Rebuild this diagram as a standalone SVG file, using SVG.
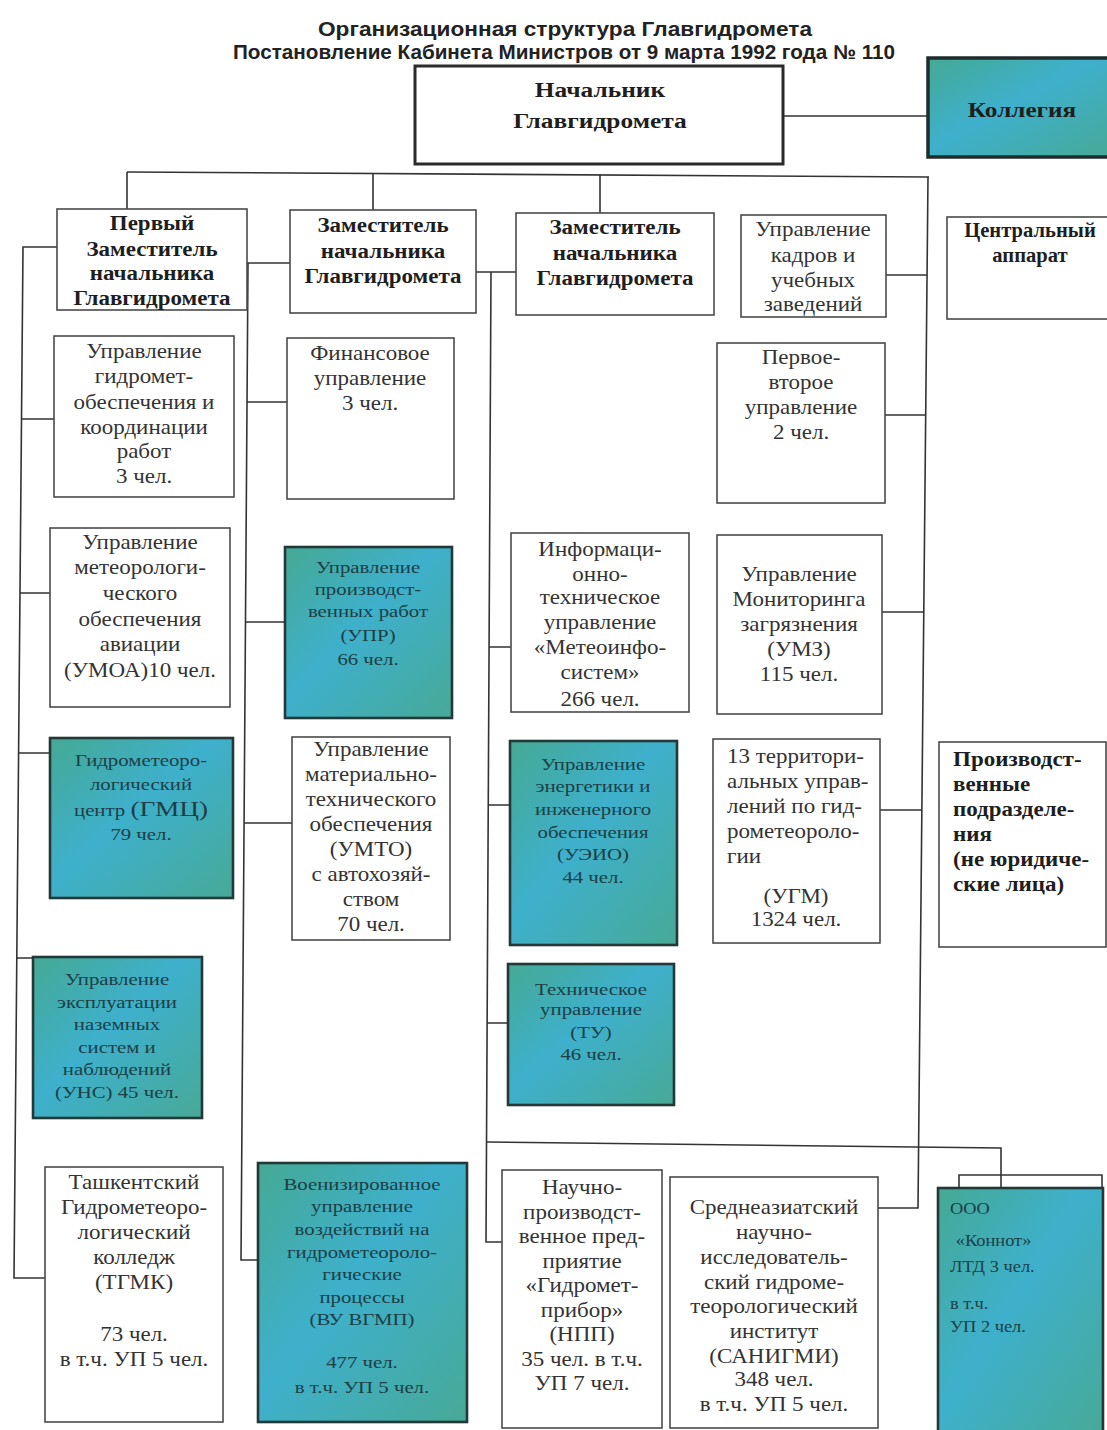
<svg xmlns="http://www.w3.org/2000/svg" width="1107" height="1430" viewBox="0 0 1107 1430">
<defs>
<linearGradient id="tg" x1="0" y1="0" x2="1" y2="1">
<stop offset="0" stop-color="#45a994"/>
<stop offset="0.45" stop-color="#3eb0cc"/>
<stop offset="1" stop-color="#47a996"/>
</linearGradient>
<style>
.box{fill:#fff;stroke:#4a4a4a;stroke-width:1.6}
.teal{fill:url(#tg);stroke:#243838;stroke-width:2.6}
.thick{fill:#fff;stroke:#2a2a2a;stroke-width:3}
.t{font-family:"Liberation Serif",serif;font-size:20px;fill:#333;text-anchor:middle}
.l{text-anchor:start}
.b{font-weight:bold;fill:#1e1e1e}
.s{font-size:16px;fill:#1c3f47}
.h{font-family:"Liberation Sans",sans-serif;font-weight:bold;font-size:20px;fill:#222;text-anchor:middle}
.conn path{stroke:#333;stroke-width:1.6;fill:none}
</style>
</defs>
<rect width="1107" height="1430" fill="#fff"/>
<g id="title">
<text class="h" x="565" y="36" textLength="494" lengthAdjust="spacingAndGlyphs">Организационная структура Главгидромета</text>
<text class="h" x="564" y="59" textLength="662" lengthAdjust="spacingAndGlyphs">Постановление Кабинета Министров от 9 марта 1992 года № 110</text>
</g>
<g class="conn" id="connectors">
<path d="M783 116H928"/>
<path d="M127 172L929 177"/>
<path d="M127 172V209M373 173V210M600 175V213"/>
<path d="M928 177L918 1208H878"/>
<path d="M886 275H927M885 415H926M882 612H924M880 810H922"/>
<path d="M57 247H23L14 1278H45"/>
<path d="M22 419H54M20 593H50M19 753H50M17 958H33"/>
<path d="M247 263H290"/>
<path d="M248 263L241 1260H258"/>
<path d="M247 402H287M245 622H285M244 823H292"/>
<path d="M476 272H516"/>
<path d="M491 272L486 1242H502"/>
<path d="M489 647H511M488 805H510M487 1023H508"/>
<path d="M487 1142L1001 1148V1188"/>
<path d="M959 1188V1175H1102V1188"/>
</g>
<g id="n-head">
<rect class="thick" x="415" y="66" width="368" height="98"/>
<g transform="translate(600 0) scale(1.27 1)">
<text class="t b" x="0" y="97" font-size="26">Начальник</text>
<text class="t b" x="0" y="128" font-size="26">Главгидромета</text>
</g>
</g>
<g id="n-kollegia">
<rect x="928" y="58" width="185" height="99" fill="url(#tg)" stroke="#1e2c2c" stroke-width="3.5"/>
<g transform="translate(1022 0) scale(1.26 1)">
<text class="t b" x="0" y="117" font-size="26" fill="#1c3438">Коллегия</text>
</g>
</g>
<g id="n-first">
<rect class="box" x="57" y="209" width="190" height="101"/>
<g transform="translate(152 0) scale(1.15 1)">
<text class="t b" x="0" y="230">Первый</text>
<text class="t b" x="0" y="256">Заместитель</text>
<text class="t b" x="0" y="280">начальника</text>
<text class="t b" x="0" y="305">Главгидромета</text>
</g>
</g>
<g id="n-dep2">
<rect class="box" x="290" y="210" width="186" height="103"/>
<g transform="translate(383 0) scale(1.15 1)">
<text class="t b" x="0" y="232">Заместитель</text>
<text class="t b" x="0" y="258">начальника</text>
<text class="t b" x="0" y="283">Главгидромета</text>
</g>
</g>
<g id="n-dep3">
<rect class="box" x="516" y="213" width="198" height="102"/>
<g transform="translate(615 0) scale(1.15 1)">
<text class="t b" x="0" y="234">Заместитель</text>
<text class="t b" x="0" y="260">начальника</text>
<text class="t b" x="0" y="285">Главгидромета</text>
</g>
</g>
<g id="n-kadr">
<rect class="box" x="741" y="215" width="145" height="102"/>
<g transform="translate(813 0) scale(1.15 1)">
<text class="t" x="0" y="236">Управление</text>
<text class="t" x="0" y="262">кадров и</text>
<text class="t" x="0" y="287">учебных</text>
<text class="t" x="0" y="311">заведений</text>
</g>
</g>
<g id="n-central">
<rect class="box" x="947" y="217" width="170" height="102"/>
<g transform="translate(1030 0) scale(1.03 1)">
<text class="t b" x="0" y="237" font-size="18.5">Центральный</text>
<text class="t b" x="0" y="262" font-size="18.5">аппарат</text>
</g>
</g>
<g id="n-gidromet">
<rect class="box" x="54" y="336" width="180" height="161"/>
<g transform="translate(144 0) scale(1.15 1)">
<text class="t" x="0" y="358">Управление</text>
<text class="t" x="0" y="383">гидромет-</text>
<text class="t" x="0" y="409">обеспечения и</text>
<text class="t" x="0" y="434">координации</text>
<text class="t" x="0" y="458">работ</text>
<text class="t" x="0" y="483">3 чел.</text>
</g>
</g>
<g id="n-umoa">
<rect class="box" x="50" y="528" width="180" height="179"/>
<g transform="translate(140 0) scale(1.15 1)">
<text class="t" x="0" y="549">Управление</text>
<text class="t" x="0" y="574">метеорологи-</text>
<text class="t" x="0" y="600">ческого</text>
<text class="t" x="0" y="626">обеспечения</text>
<text class="t" x="0" y="651">авиации</text>
<text class="t" x="0" y="677">(УМОА)10 чел.</text>
</g>
</g>
<g id="n-gmc">
<rect class="teal" x="50" y="738" width="183" height="160"/>
<g transform="translate(141 0) scale(1.3 1)">
<text class="t s" x="0" y="766">Гидрометеоро-</text>
<text class="t s" x="0" y="790">логический</text>
<text class="t s" x="0" y="816">центр <tspan font-size="21">(ГМЦ)</tspan></text>
<text class="t s" x="0" y="840" font-size="14">79 чел.</text>
</g>
</g>
<g id="n-uns">
<rect class="teal" x="33" y="957" width="169" height="161"/>
<g transform="translate(117 0) scale(1.3 1)">
<text class="t s" x="0" y="985">Управление</text>
<text class="t s" x="0" y="1008">эксплуатации</text>
<text class="t s" x="0" y="1030">наземных</text>
<text class="t s" x="0" y="1053">систем и</text>
<text class="t s" x="0" y="1075">наблюдений</text>
<text class="t s" x="0" y="1098">(УНС) 45 чел.</text>
</g>
</g>
<g id="n-tgmk">
<rect class="box" x="45" y="1167" width="178" height="255"/>
<g transform="translate(134 0) scale(1.15 1)">
<text class="t" x="0" y="1189">Ташкентский</text>
<text class="t" x="0" y="1214">Гидрометеоро-</text>
<text class="t" x="0" y="1239">логический</text>
<text class="t" x="0" y="1264">колледж</text>
<text class="t" x="0" y="1289">(ТГМК)</text>
<text class="t" x="0" y="1341">73 чел.</text>
<text class="t" x="0" y="1366">в т.ч. УП 5 чел.</text>
</g>
</g>
<g id="n-fin">
<rect class="box" x="287" y="338" width="167" height="161"/>
<g transform="translate(370 0) scale(1.15 1)">
<text class="t" x="0" y="360">Финансовое</text>
<text class="t" x="0" y="385">управление</text>
<text class="t" x="0" y="410">3 чел.</text>
</g>
</g>
<g id="n-upr">
<rect class="teal" x="285" y="547" width="167" height="171"/>
<g transform="translate(368 0) scale(1.3 1)">
<text class="t s" x="0" y="573">Управление</text>
<text class="t s" x="0" y="595">производст-</text>
<text class="t s" x="0" y="617">венных работ</text>
<text class="t s" x="0" y="641">(УПР)</text>
<text class="t s" x="0" y="665">66 чел.</text>
</g>
</g>
<g id="n-umto">
<rect class="box" x="292" y="737" width="158" height="203"/>
<g transform="translate(371 0) scale(1.15 1)">
<text class="t" x="0" y="756">Управление</text>
<text class="t" x="0" y="781">материально-</text>
<text class="t" x="0" y="806">технического</text>
<text class="t" x="0" y="831">обеспечения</text>
<text class="t" x="0" y="856">(УМТО)</text>
<text class="t" x="0" y="881">с автохозяй-</text>
<text class="t" x="0" y="906">ством</text>
<text class="t" x="0" y="931">70 чел.</text>
</g>
</g>
<g id="n-vu">
<rect class="teal" x="258" y="1163" width="209" height="259"/>
<g transform="translate(362 0) scale(1.3 1)">
<text class="t s" x="0" y="1190">Военизированное</text>
<text class="t s" x="0" y="1212">управление</text>
<text class="t s" x="0" y="1235">воздействий на</text>
<text class="t s" x="0" y="1258">гидрометеороло-</text>
<text class="t s" x="0" y="1280">гические</text>
<text class="t s" x="0" y="1303">процессы</text>
<text class="t s" x="0" y="1325">(ВУ ВГМП)</text>
<text class="t s" x="0" y="1368">477 чел.</text>
<text class="t s" x="0" y="1393">в т.ч. УП 5 чел.</text>
</g>
</g>
<g id="n-info">
<rect class="box" x="511" y="533" width="178" height="179"/>
<g transform="translate(600 0) scale(1.15 1)">
<text class="t" x="0" y="556">Информаци-</text>
<text class="t" x="0" y="581">онно-</text>
<text class="t" x="0" y="604">техническое</text>
<text class="t" x="0" y="629">управление</text>
<text class="t" x="0" y="654">«Метеоинфо-</text>
<text class="t" x="0" y="679">систем»</text>
<text class="t" x="0" y="706">266 чел.</text>
</g>
</g>
<g id="n-ueio">
<rect class="teal" x="510" y="741" width="167" height="204"/>
<g transform="translate(593 0) scale(1.3 1)">
<text class="t s" x="0" y="770">Управление</text>
<text class="t s" x="0" y="792">энергетики и</text>
<text class="t s" x="0" y="815">инженерного</text>
<text class="t s" x="0" y="838">обеспечения</text>
<text class="t s" x="0" y="860">(УЭИО)</text>
<text class="t s" x="0" y="883">44 чел.</text>
</g>
</g>
<g id="n-tu">
<rect class="teal" x="508" y="964" width="166" height="141"/>
<g transform="translate(591 0) scale(1.3 1)">
<text class="t s" x="0" y="995">Техническое</text>
<text class="t s" x="0" y="1015">управление</text>
<text class="t s" x="0" y="1038">(ТУ)</text>
<text class="t s" x="0" y="1060">46 чел.</text>
</g>
</g>
<g id="n-npp">
<rect class="box" x="502" y="1170" width="160" height="258"/>
<g transform="translate(582 0) scale(1.15 1)">
<text class="t" x="0" y="1194">Научно-</text>
<text class="t" x="0" y="1219">производст-</text>
<text class="t" x="0" y="1243">венное пред-</text>
<text class="t" x="0" y="1268">приятие</text>
<text class="t" x="0" y="1292">«Гидромет-</text>
<text class="t" x="0" y="1317">прибор»</text>
<text class="t" x="0" y="1341">(НПП)</text>
<text class="t" x="0" y="1366">35 чел.  в т.ч.</text>
<text class="t" x="0" y="1390">УП 7 чел.</text>
</g>
</g>
<g id="n-pervoe">
<rect class="box" x="717" y="343" width="168" height="160"/>
<g transform="translate(801 0) scale(1.15 1)">
<text class="t" x="0" y="364">Первое-</text>
<text class="t" x="0" y="389">второе</text>
<text class="t" x="0" y="414">управление</text>
<text class="t" x="0" y="439">2 чел.</text>
</g>
</g>
<g id="n-umz">
<rect class="box" x="717" y="535" width="165" height="179"/>
<g transform="translate(799 0) scale(1.15 1)">
<text class="t" x="0" y="581">Управление</text>
<text class="t" x="0" y="606">Мониторинга</text>
<text class="t" x="0" y="631">загрязнения</text>
<text class="t" x="0" y="656">(УМЗ)</text>
<text class="t" x="0" y="681">115 чел.</text>
</g>
</g>
<g id="n-ugm">
<rect class="box" x="713" y="739" width="167" height="204"/>
<g transform="translate(727 0) scale(1.15 1)">
<text class="t l" x="0" y="763">13 территори-</text>
<text class="t l" x="0" y="788">альных управ-</text>
<text class="t l" x="0" y="813">лений по гид-</text>
<text class="t l" x="0" y="838">рометеороло-</text>
<text class="t l" x="0" y="863">гии</text>
</g>
<g transform="translate(796 0) scale(1.15 1)">
<text class="t" x="0" y="903">(УГМ)</text>
<text class="t" x="0" y="926">1324 чел.</text>
</g>
</g>
<g id="n-sanigmi">
<rect class="box" x="670" y="1177" width="208" height="251"/>
<g transform="translate(774 0) scale(1.15 1)">
<text class="t" x="0" y="1214">Среднеазиатский</text>
<text class="t" x="0" y="1239">научно-</text>
<text class="t" x="0" y="1264">исследователь-</text>
<text class="t" x="0" y="1289">ский гидроме-</text>
<text class="t" x="0" y="1313">теорологический</text>
<text class="t" x="0" y="1338">институт</text>
<text class="t" x="0" y="1363">(САНИГМИ)</text>
<text class="t" x="0" y="1386">348 чел.</text>
<text class="t" x="0" y="1411">в т.ч. УП 5 чел.</text>
</g>
</g>
<g id="n-proizv">
<rect class="box" x="939" y="742" width="167" height="205"/>
<g transform="translate(953 0) scale(1.15 1)">
<text class="t b l" x="0" y="766">Производст-</text>
<text class="t b l" x="0" y="791">венные</text>
<text class="t b l" x="0" y="816">подразделе-</text>
<text class="t b l" x="0" y="841">ния</text>
<text class="t b l" x="0" y="866">(не юридиче-</text>
<text class="t b l" x="0" y="891">ские лица)</text>
</g>
</g>
<g id="n-konnot">
<rect class="teal" x="938" y="1188" width="165" height="250"/>
<g transform="translate(950 0) scale(1.15 1)">
<text class="t s l" x="0" y="1214" font-size="15">ООО</text>
<text class="t s l" x="5" y="1246" font-size="15">«Коннот»</text>
<text class="t s l" x="0" y="1272" font-size="15">ЛТД 3 чел.</text>
<text class="t s l" x="0" y="1309" font-size="15">в т.ч.</text>
<text class="t s l" x="0" y="1332" font-size="15">УП 2 чел.</text>
</g>
</g>
</svg>
